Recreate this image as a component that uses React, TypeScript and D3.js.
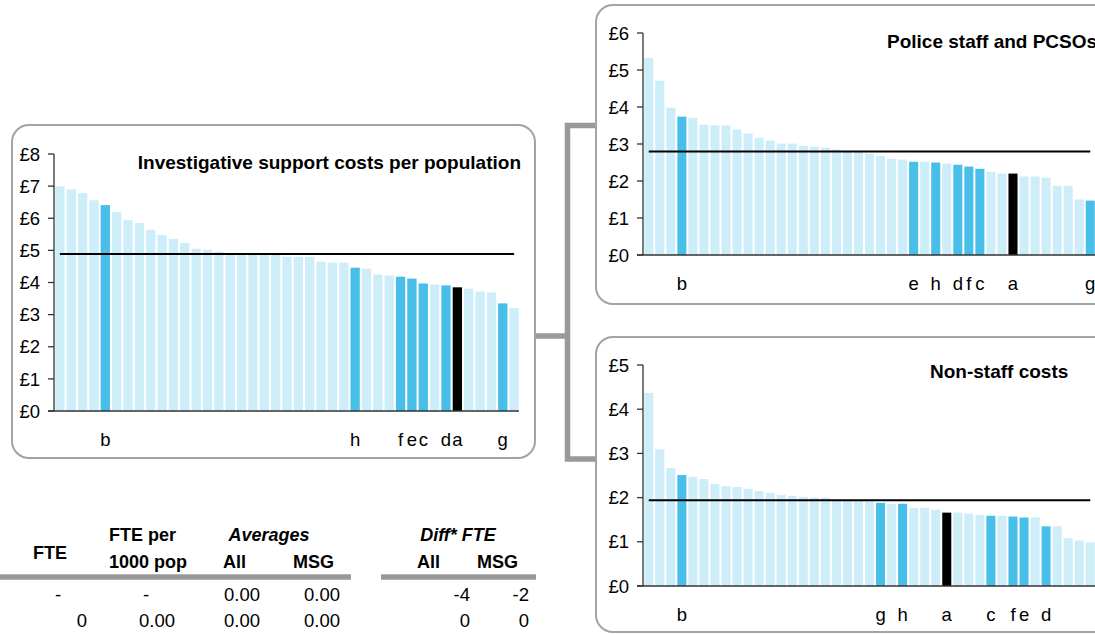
import React from "react";
import * as d3 from "d3";

// ---------- DATA ----------
const forceLetters = ["a", "b", "c", "d", "e", "f", "g", "h"];

const investValues = [
  6.99, 6.9, 6.78, 6.56, 6.41, 6.19, 5.94, 5.85, 5.64, 5.48, 5.36, 5.23, 5.05, 5.02,
  4.96, 4.9, 4.89, 4.89, 4.88, 4.88, 4.8, 4.8, 4.8, 4.65, 4.62, 4.62, 4.46, 4.43,
  4.25, 4.22, 4.18, 4.12, 3.97, 3.94, 3.91, 3.85, 3.81, 3.72, 3.69, 3.35, 3.2,
];
const investRanks = [35, 4, 32, 34, 31, 30, 39, 26]; // position of forces a..h
const investAverage = 4.89;
const investTicks = [0, 1, 2, 3, 4, 5, 6, 7, 8];

const staffValues = [
  5.32, 4.71, 3.98, 3.74, 3.71, 3.52, 3.5, 3.5, 3.39, 3.28, 3.17, 3.09, 3.01, 3.01,
  2.95, 2.93, 2.9, 2.85, 2.79, 2.79, 2.74, 2.68, 2.6, 2.58, 2.52, 2.52, 2.5, 2.47,
  2.44, 2.39, 2.33, 2.25, 2.2, 2.2, 2.12, 2.12, 2.09, 1.87, 1.87, 1.5, 1.47,
];
const staffRanks = [33, 3, 30, 28, 24, 29, 40, 26];
const staffAverage = 2.8;
const staffTicks = [0, 1, 2, 3, 4, 5, 6];

const nonStaffValues = [
  4.37, 3.09, 2.67, 2.51, 2.47, 2.42, 2.31, 2.26, 2.24, 2.2, 2.15, 2.11, 2.06, 2.04,
  2.02, 2.0, 2.0, 1.94, 1.94, 1.94, 1.91, 1.88, 1.86, 1.86, 1.77, 1.77, 1.73, 1.66,
  1.66, 1.64, 1.61, 1.59, 1.59, 1.57, 1.55, 1.55, 1.35, 1.35, 1.08, 1.03, 0.99,
];
const nonStaffRanks = [27, 3, 31, 36, 34, 33, 21, 23];
const nonStaffAverage = 1.94;
const nonStaffTicks = [0, 1, 2, 3, 4, 5];

const tableRow1 = ["-", "-", "0.00", "0.00", "-4", "-2"];
const tableRow2 = ["0", "0.00", "0.00", "0.00", "0", "0"];

// ---------- STYLE ----------
const FONT = "'Liberation Sans', Arial, Helvetica, sans-serif";
const LIGHT = "#cdedf9";
const HIGHLIGHT = "#48bfe9";
const TARGET = "#000000";
const FRAME = "#a3a3a3";

type PanelProps = {
  values: number[];
  ranks: number[];
  average: number;
  ticks: number[];
  title: string;
  box: { x: number; y: number; w: number; h: number };
  plot: { x0: number; x1: number; y0: number; yTop: number };
  titleX: number;
  titleY: number;
  titleAnchor: "start" | "end";
};

function BarPanel(p: PanelProps) {
  const idx = d3.range(p.values.length);
  const x = d3
    .scaleBand<number>()
    .domain(idx)
    .range([p.plot.x0, p.plot.x1])
    .paddingInner(0.18)
    .paddingOuter(0.02);
  const yMax = d3.max(p.ticks) as number;
  const y = d3.scaleLinear().domain([0, yMax]).range([p.plot.y0, p.plot.yTop]);
  const labelAt = new Map<number, string>(p.ranks.map((r, i) => [r, forceLetters[i]]));
  const bw = x.bandwidth();
  const axisX = p.plot.x0 - 1;
  const fmt = (v: number) => "£" + d3.format("d")(v);

  return (
    <g>
      <rect
        x={p.box.x}
        y={p.box.y}
        width={p.box.w}
        height={p.box.h}
        rx={17}
        ry={17}
        fill="#fff"
        stroke={FRAME}
        strokeWidth={2}
      />
      {idx.map((i) => {
        const l = labelAt.get(i);
        const fill = l === "a" ? TARGET : l ? HIGHLIGHT : LIGHT;
        return (
          <rect
            key={i}
            x={x(i)}
            y={y(p.values[i])}
            width={bw}
            height={y(0) - y(p.values[i])}
            fill={fill}
          />
        );
      })}
      {/* average line */}
      <line
        x1={(x(0) as number) + bw / 2}
        x2={(x(idx.length - 1) as number) + bw / 2}
        y1={y(p.average)}
        y2={y(p.average)}
        stroke="#000"
        strokeWidth={2}
      />
      {/* axes */}
      <line x1={axisX} x2={axisX} y1={y(yMax)} y2={y(0)} stroke="#333" strokeWidth={1.3} />
      <line x1={axisX - 6} x2={p.plot.x1} y1={y(0)} y2={y(0)} stroke="#333" strokeWidth={1.3} />
      {p.ticks.map((t) => (
        <g key={t}>
          <line x1={axisX - 6} x2={axisX} y1={y(t)} y2={y(t)} stroke="#333" strokeWidth={1.3} />
          <text
            x={axisX - 14}
            y={y(t)}
            dy="0.36em"
            textAnchor="end"
            fontFamily={FONT}
            fontSize={18.5}
            fill="#000"
          >
            {fmt(t)}
          </text>
        </g>
      ))}
      {idx.map((i) => {
        const l = labelAt.get(i);
        if (!l) return null;
        return (
          <text
            key={"l" + i}
            x={(x(i) as number) + bw / 2}
            y={y(0) + 35}
            textAnchor="middle"
            fontFamily={FONT}
            fontSize={18.5}
            fill="#000"
          >
            {l}
          </text>
        );
      })}
      <text
        x={p.titleX}
        y={p.titleY}
        textAnchor={p.titleAnchor}
        fontFamily={FONT}
        fontSize={19}
        fontWeight="bold"
        fill="#000"
      >
        {p.title}
      </text>
    </g>
  );
}

function Table() {
  const colEnds = [87, 175, 260, 340, 470, 529];
  const cell = (v: string, i: number, yy: number) => {
    if (v === "-" && i < 2) {
      return (
        <text key={i} x={colEnds[i] - 29} y={yy} textAnchor="middle" fontFamily={FONT} fontSize={18.5}>
          {v}
        </text>
      );
    }
    return (
      <text key={i} x={colEnds[i]} y={yy} textAnchor="end" fontFamily={FONT} fontSize={18.5}>
        {v}
      </text>
    );
  };
  const hb = { fontFamily: FONT, fontSize: 18, fontWeight: "bold" as const };
  return (
    <g>
      <text x={50} y={559} textAnchor="middle" {...hb}>FTE</text>
      <text x={109} y={541} {...hb}>FTE per</text>
      <text x={109} y={568} {...hb}>1000 pop</text>
      <text x={269} y={541} textAnchor="middle" fontStyle="italic" {...hb}>Averages</text>
      <text x={223} y={568} {...hb}>All</text>
      <text x={334} y={568} textAnchor="end" {...hb}>MSG</text>
      <text x={458} y={541} textAnchor="middle" fontStyle="italic" {...hb}>Diff* FTE</text>
      <text x={417} y={568} {...hb}>All</text>
      <text x={518} y={568} textAnchor="end" {...hb}>MSG</text>
      <line x1={0} x2={351} y1={577} y2={577} stroke="#999" strokeWidth={5.5} />
      <line x1={381} x2={536} y1={577} y2={577} stroke="#999" strokeWidth={5.5} />
      {tableRow1.map((v, i) => cell(v, i, 601))}
      {tableRow2.map((v, i) => cell(v, i, 627))}
    </g>
  );
}

export default function App() {
  return (
    <svg
      width={1095}
      height={635}
      style={{ position: "absolute", left: 0, top: 0, background: "#fff" }}
    >
      <rect x={0} y={0} width={1095} height={635} fill="#fff" />
      {/* connector bracket */}
      <path d="M596,125.5 H567.5 V459 H596" fill="none" stroke="#999" strokeWidth={5.5} />
      <path d="M534,336 H567.5" fill="none" stroke="#999" strokeWidth={5.5} />
      <BarPanel
        values={investValues}
        ranks={investRanks}
        average={investAverage}
        ticks={investTicks}
        title="Investigative support costs per population"
        box={{ x: 12, y: 125, w: 523, h: 333 }}
        plot={{ x0: 55, x1: 519, y0: 411, yTop: 154 }}
        titleX={521}
        titleY={169}
        titleAnchor="end"
      />
      <BarPanel
        values={staffValues}
        ranks={staffRanks}
        average={staffAverage}
        ticks={staffTicks}
        title="Police staff and PCSOs"
        box={{ x: 596, y: 5, w: 530, h: 299 }}
        plot={{ x0: 644, x1: 1095, y0: 255, yTop: 33 }}
        titleX={887}
        titleY={48}
        titleAnchor="start"
      />
      <BarPanel
        values={nonStaffValues}
        ranks={nonStaffRanks}
        average={nonStaffAverage}
        ticks={nonStaffTicks}
        title="Non-staff costs"
        box={{ x: 596, y: 337, w: 530, h: 295 }}
        plot={{ x0: 644, x1: 1095, y0: 586, yTop: 365 }}
        titleX={930}
        titleY={378}
        titleAnchor="start"
      />
      <Table />
    </svg>
  );
}
